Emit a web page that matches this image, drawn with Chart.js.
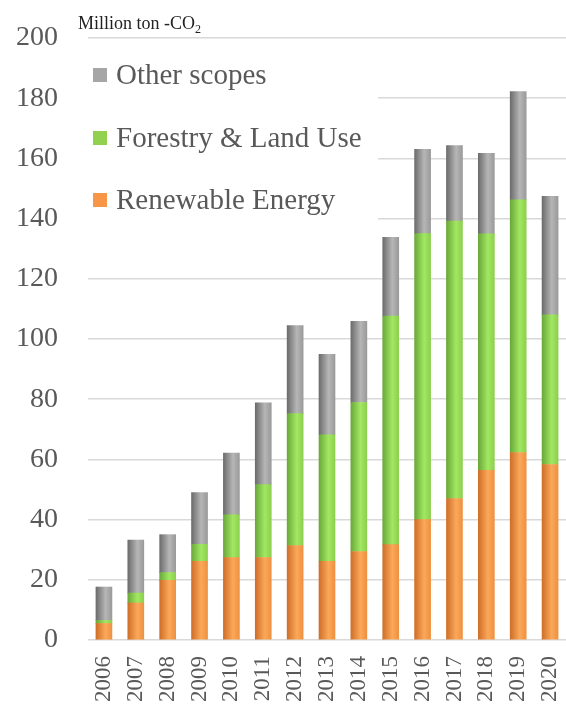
<!DOCTYPE html>
<html>
<head>
<meta charset="utf-8">
<script src="https://cdn.jsdelivr.net/npm/chart.js@4"></script>
<style>
  html, body { margin: 0; padding: 0; background: #fff; }
  #wrap { width: 566px; height: 704px; }
</style>
</head>
<body>
<div id="wrap"><canvas id="co2" width="566" height="704"></canvas></div>
<script>
// Emission reductions by scope, million ton CO2
const years = ['2006', '2007', '2008', '2009', '2010', '2011', '2012', '2013', '2014', '2015', '2016', '2017', '2018', '2019', '2020'];
const renewable = [5.5, 12.3, 19.8, 26.1, 27.4, 27.4, 31.4, 26.1, 29.4, 31.7, 40.0, 47.0, 56.4, 62.3, 58.3];
const forestry  = [1.0, 3.3, 2.6, 5.7, 14.2, 24.2, 43.8, 42.1, 49.5, 75.9, 95.0, 92.2, 78.5, 83.9, 49.7];
const other     = [11.1, 17.6, 12.6, 17.2, 20.5, 27.2, 29.3, 26.7, 27.0, 26.2, 28.0, 25.1, 26.8, 36.0, 39.4];
const yTickValues = [0, 20, 40, 60, 80, 100, 120, 140, 160, 180, 200];

const SERIF = '"Liberation Serif", "Times New Roman", serif';
const TEXT_GRAY = '#595959';
const BAR_W = 16;

// cylinder-ish shading like the office chart: dark left, light middle, medium right
function barGradient(stops, flat) {
  return (context) => {
    const chart = context.chart;
    if (!chart.chartArea || context.dataIndex === undefined) return flat;
    const x = chart.scales.x.getPixelForValue(context.dataIndex);
    const g = chart.ctx.createLinearGradient(x - BAR_W / 2, 0, x + BAR_W / 2, 0);
    g.addColorStop(0, stops[0]);
    g.addColorStop(0.6, stops[1]);
    g.addColorStop(1, stops[2]);
    return g;
  };
}

// legend in the upper-left of the plot, on a white box, plus unit label
const overlayPlugin = {
  id: 'overlay',
  afterDraw(chart) {
    const ctx = chart.ctx;
    const area = chart.chartArea;
    ctx.save();
    ctx.fillStyle = '#fff';
    ctx.fillRect(area.left, area.top + 4, 290, 186);

    const items = chart.data.datasets.slice().reverse();
    const rows = [75, 138, 200];
    ctx.font = '29px ' + SERIF;
    ctx.textBaseline = 'middle';
    items.forEach((ds, i) => {
      ctx.fillStyle = ds.legendColor;
      ctx.fillRect(93, rows[i] - 7, 14, 14);
      ctx.fillStyle = TEXT_GRAY;
      ctx.fillText(ds.label, 116, rows[i] + 1);
    });

    ctx.fillStyle = '#222';
    ctx.textBaseline = 'alphabetic';
    ctx.font = '18px ' + SERIF;
    const unit = 'Million ton -CO';
    ctx.fillText(unit, 78, 29);
    const w = ctx.measureText(unit).width;
    ctx.font = '12px ' + SERIF;
    ctx.fillText('2', 78 + w, 33);
    ctx.restore();
  }
};

new Chart(document.getElementById('co2'), {
  type: 'bar',
  data: {
    labels: years,
    datasets: [
      {
        label: 'Renewable Energy',
        data: renewable,
        legendColor: '#f79646',
        backgroundColor: barGradient(['#cf6f28', '#fba85a', '#ee9140'], '#f79646'),
        barThickness: BAR_W
      },
      {
        label: 'Forestry & Land Use',
        data: forestry,
        legendColor: '#92d050',
        backgroundColor: barGradient(['#6aa83a', '#a2e862', '#8ccf4e'], '#92d050'),
        barThickness: BAR_W
      },
      {
        label: 'Other scopes',
        data: other,
        legendColor: '#a6a6a6',
        backgroundColor: barGradient(['#6c6c6c', '#b6b6b6', '#9a9a9a'], '#a6a6a6'),
        barThickness: BAR_W
      }
    ]
  },
  options: {
    responsive: false,
    animation: false,
    layout: { padding: { left: 10, top: 38, right: 0, bottom: 3 } },
    plugins: {
      legend: { display: false },
      tooltip: { enabled: false }
    },
    scales: {
      x: {
        stacked: true,
        grid: { display: false },
        border: { display: false },
        ticks: {
          color: TEXT_GRAY,
          font: { family: SERIF, size: 23 },
          minRotation: 90,
          maxRotation: 90,
          padding: 8
        },
        afterFit: (scale) => {
          scale.height = 61;
          scale.paddingLeft = 0;
          scale.paddingRight = 0;
        }
      },
      y: {
        stacked: true,
        min: 0,
        max: 200,
        afterBuildTicks: (scale) => { scale.ticks = yTickValues.map(v => ({ value: v })); },
        grid: { color: '#d9d9d9', lineWidth: 1.5, drawTicks: false },
        border: { display: false },
        ticks: {
          color: TEXT_GRAY,
          font: { family: SERIF, size: 28 },
          padding: 30
        },
        afterFit: (scale) => {
          scale.width = 78;
          scale.paddingTop = 0;
          scale.paddingBottom = 0;
        }
      }
    }
  },
  plugins: [overlayPlugin]
});
</script>
</body>
</html>
